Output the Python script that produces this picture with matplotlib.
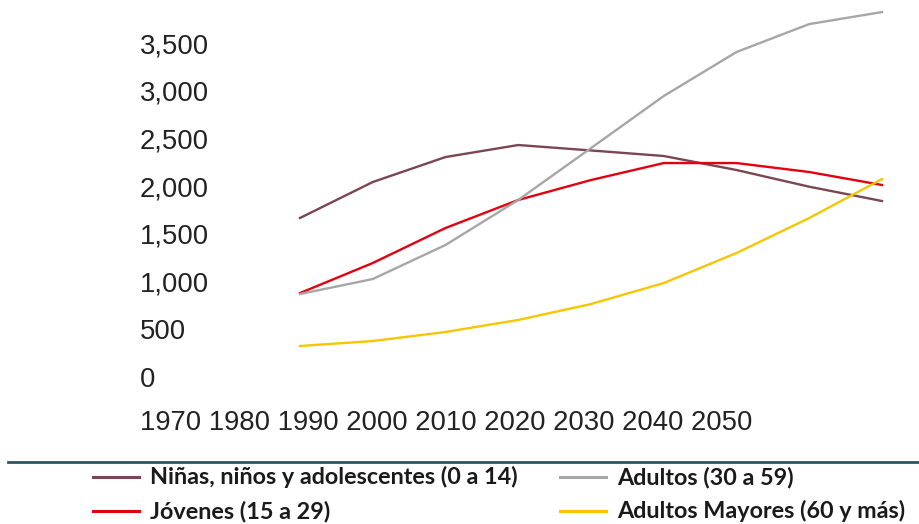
import matplotlib
matplotlib.use('Agg')
import matplotlib.pyplot as plt
from matplotlib.lines import Line2D

# %% Data (miles de personas)
years = [1990, 2000, 2010, 2020, 2030, 2040, 2050, 2060, 2070]
ninos = [1667, 2044, 2306, 2432, 2375, 2317, 2170, 1995, 1845]
jovenes = [880, 1195, 1562, 1856, 2065, 2243, 2243, 2149, 2013]
adultos = [870, 1027, 1384, 1856, 2400, 2946, 3407, 3700, 3826]
mayores = [325, 377, 472, 598, 765, 985, 1300, 1667, 2075]

series_names = ['Niñas, niños y adolescentes (0 a 14)', 'Jóvenes (15 a 29)',
                'Adultos (30 a 59)', 'Adultos Mayores (60 y más)']
colors = ['#7a4654', '#e3000f', '#a6a6a6', '#f7c600']

y_ticks = [0, 500, 1000, 1500, 2000, 2500, 3000, 3500]
x_labels = ['1970', '1980', '1990', '2000', '2010', '2020', '2030', '2040', '2050']

W, H = 920, 524

# %% Plot
fig = plt.figure(figsize=(W / 100, H / 100), dpi=100)
ax = fig.add_axes([300 / W, (H - 377) / H, (882 - 300) / W, (377 - 5) / H])

for vals, c in zip([ninos, jovenes, adultos, mayores], colors):
    ax.plot(years, vals, color=c, lw=1.7, solid_joinstyle='miter', clip_on=False)

ax.set_xlim(1990, 2070)
ax.set_ylim(0, 3900)
for s in ax.spines.values():
    s.set_visible(False)
ax.set_xticks([])
ax.set_yticks(y_ticks)
ax.set_yticklabels([f'{v:,}' for v in y_ticks], family='Liberation Sans',
                   fontsize=19.8, color='#222222', ha='left')
ax.tick_params(axis='y', length=0, pad=160 * 0.72)

# x labels as one row of text (not aligned to the lines in the original)
fig.text(140 / W, 1 - 423 / H, ' '.join(x_labels), family='Liberation Sans',
         fontsize=19.8, color='#222222', ha='left', va='center')

# separator
fig.add_artist(Line2D([8 / W, 1], [1 - 462 / H, 1 - 462 / H], color='#2e5566', lw=2))

# legend, drawn by hand in two columns
leg_pos = [(93, 477), (93, 511), (560, 477), (560, 511)]
for (x0, y0), name, c in zip(leg_pos, series_names, colors):
    fig.add_artist(Line2D([x0 / W, (x0 + 46) / W], [1 - y0 / H, 1 - y0 / H], color=c, lw=2.2))
    fig.text((x0 + 57) / W, 1 - y0 / H, name, family='Lato', weight='bold',
             fontsize=16.8, color='#1a1a1a', ha='left', va='center')

plt.savefig('out.png', dpi=100)
